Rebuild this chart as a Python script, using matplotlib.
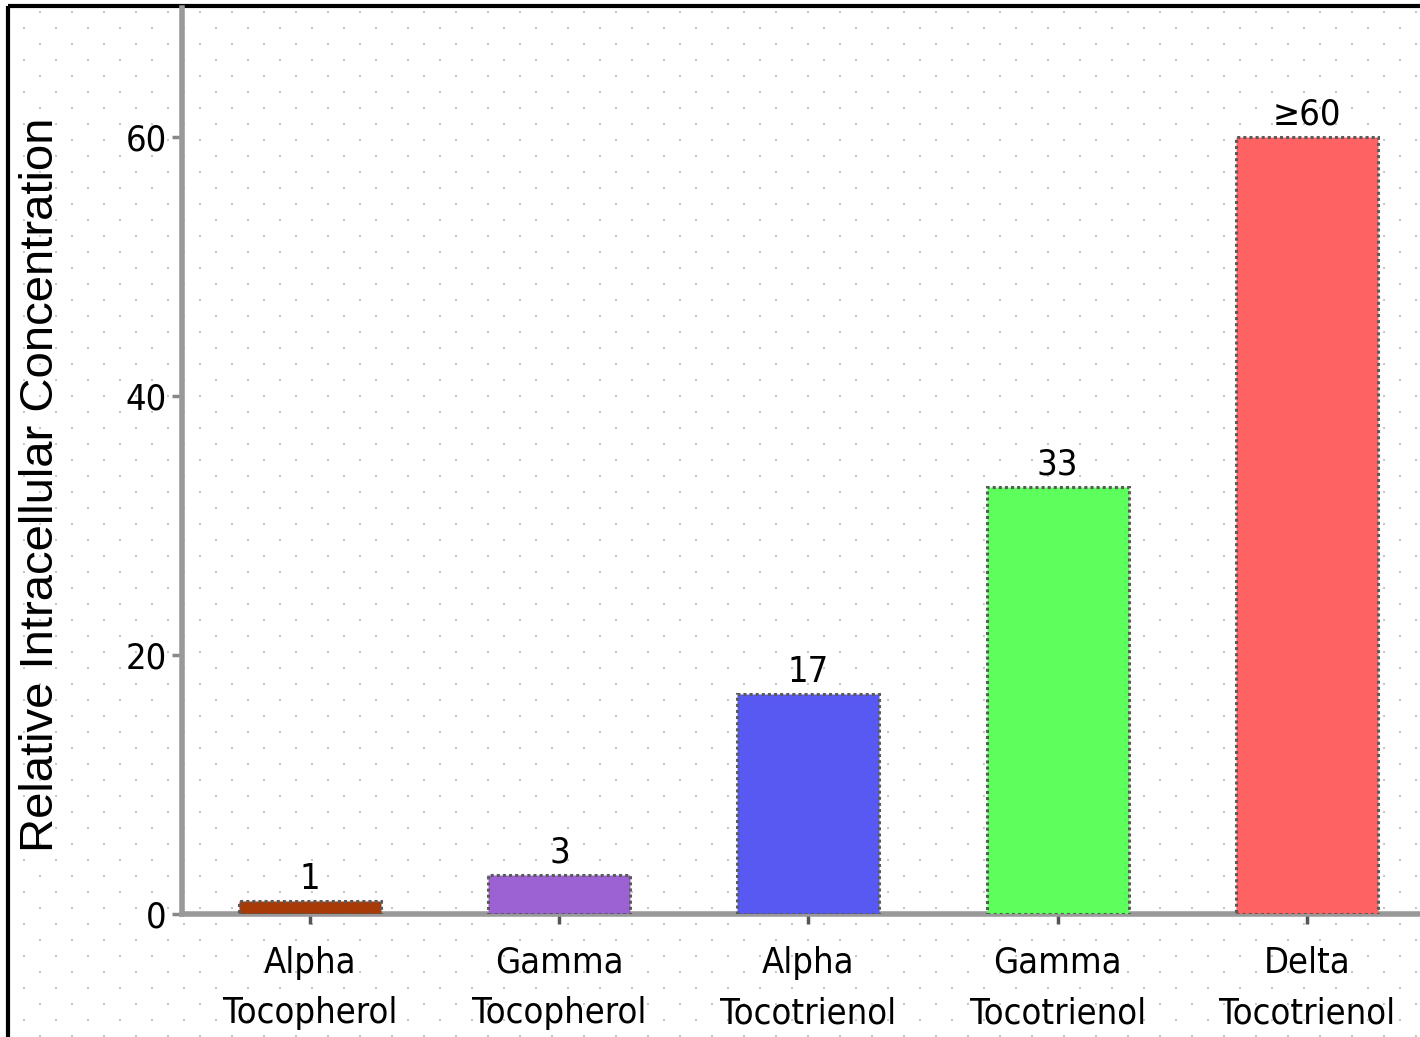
import matplotlib.pyplot as plt
import numpy as np

categories = ['Alpha\nTocopherol', 'Gamma\nTocopherol', 'Alpha\nTocotrienol',
              'Gamma\nTocotrienol', 'Delta\nTocotrienol']
values = [1, 3, 17, 33, 60]
value_labels = ['1', '3', '17', '33', '≥60']
colors = ['#A83A08', '#9C62D4', '#5858F2', '#5CFF5C', '#FF6262']
yticks = [0, 20, 40, 60]

plt.rcParams['font.family'] = ['DejaVu Sans']
plt.rcParams['font.stretch'] = 'condensed'

W, H = 1420, 1037
fig = plt.figure(figsize=(W / 100, H / 100), dpi=100)
fig.patch.set_facecolor('white')

# dotted background texture (staggered grid of grey dots, in pixels)
bg = fig.add_axes([0, 0, 1, 1], zorder=-1)
bg.set_xlim(0, W)
bg.set_ylim(H, 0)
bg.axis('off')
px, py = [], []
for i, yy in enumerate(np.arange(12, H, 16)):
    off = 8 if i % 2 == 0 else 24
    for xx in np.arange(off, W, 32):
        px.append(xx)
        py.append(yy)
bg.scatter(px, py, s=4, marker='s', color='#C8C8C8', linewidths=0)
# frame lines at top and left
bg.plot([8, W], [6, 6], color='black', lw=3, solid_capstyle='butt')
bg.plot([8, 8], [6, H], color='black', lw=3, solid_capstyle='butt')

ax = fig.add_axes([182 / W, 1 - 914 / H, 1 - 182 / W, (914 - 7.5) / H])
ax.patch.set_alpha(0)

x = np.arange(len(categories))
bars = ax.bar(x, values, width=0.57, color=colors, edgecolor='#5a5a5a',
              linewidth=2.2, linestyle=(0, (1, 1)), zorder=3)
for xi, v, lab in zip(x, values, value_labels):
    ax.text(xi, v + 0.4, lab, ha='center', va='bottom', fontsize=26)

ax.set_xlim(-0.515, 4.455)
ax.set_ylim(0, 70)
ax.set_yticks(yticks)
ax.set_xticks(x)
ax.set_xticklabels(categories, fontsize=26, linespacing=1.6)
ax.set_yticklabels([str(t) for t in yticks], fontsize=26)
ax.tick_params(axis='y', length=7, width=2.5, color='#888888', pad=4)
ax.tick_params(axis='x', length=7, width=2.5, color='#555555', pad=16)
ax.set_ylabel('Relative Intracellular Concentration', family=['Liberation Sans', 'DejaVu Sans'],
              stretch='normal', fontsize=34)
ax.yaxis.set_label_coords(-0.096, 0.473)

for s in ['top', 'right']:
    ax.spines[s].set_visible(False)
for s in ['left', 'bottom']:
    ax.spines[s].set_color('#999999')
    ax.spines[s].set_linewidth(4)

fig.savefig('out.png', dpi=100)
